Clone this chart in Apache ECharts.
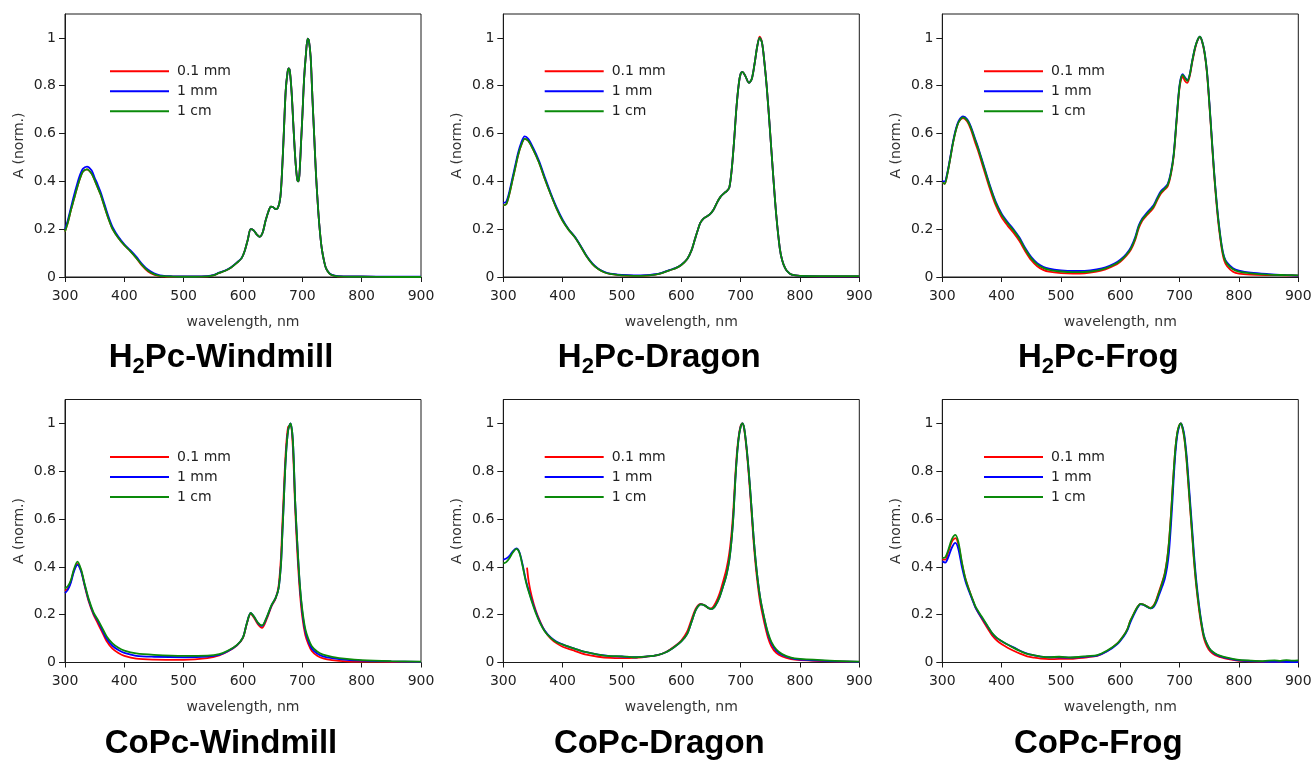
<!DOCTYPE html>
<html><head><meta charset="utf-8">
<script src="https://cdn.jsdelivr.net/npm/echarts@6/dist/echarts.min.js"></script>
<style>html,body{margin:0;padding:0;background:#fff}#c{width:1314px;height:761px}</style>
</head><body><div id="c"></div>
<script>
const xTicks = [300, 400, 500, 600, 700, 800, 900];
const yTicks = [0, 0.2, 0.4, 0.6, 0.8, 1];
const seriesNames = ['0.1 mm', '1 mm', '1 cm'];
const panelTitles = ['{a|H}{s|2}{a|Pc-Windmill}', '{a|H}{s|2}{a|Pc-Dragon}', '{a|H}{s|2}{a|Pc-Frog}',
                     '{a|CoPc-Windmill}', '{a|CoPc-Dragon}', '{a|CoPc-Frog}'];

// ---- H2Pc-Windmill ----
const wl1 = [300,305,310,315,320,325,330,337,345,350,355,360,365,370,375,380,390,400,410,420,430,440,450,460,470,480,500,520,540,550,560,570,580,590,598,603,608,613,618,623,628,633,638,643,647,651,655,659,663,666,669,672,675,677,679,682,685,688,691,693,695,698,700,703,706,709,711,714,717,720,723,727,730,733,737,740,745,750,760,780,800,850,900];
const r1 = [0.19,0.23,0.28,0.325,0.37,0.41,0.44,0.45,0.432,0.405,0.375,0.345,0.307,0.268,0.232,0.202,0.163,0.133,0.108,0.08,0.047,0.023,0.01,0.004,0.002,0.001,0.001,0.001,0.003,0.007,0.017,0.026,0.04,0.06,0.08,0.11,0.155,0.2,0.195,0.178,0.168,0.185,0.235,0.275,0.294,0.292,0.284,0.29,0.335,0.45,0.615,0.78,0.855,0.872,0.86,0.77,0.63,0.5,0.415,0.4,0.425,0.57,0.67,0.83,0.93,0.997,0.99,0.92,0.75,0.59,0.43,0.27,0.18,0.115,0.062,0.036,0.016,0.008,0.003,0.001,0.001,0,0];
const b1 = [0.2,0.24,0.29,0.34,0.385,0.425,0.452,0.462,0.445,0.415,0.387,0.355,0.317,0.277,0.24,0.21,0.168,0.137,0.112,0.085,0.054,0.03,0.015,0.007,0.004,0.003,0.002,0.002,0.004,0.008,0.018,0.027,0.041,0.061,0.081,0.11,0.155,0.2,0.195,0.178,0.168,0.185,0.235,0.275,0.294,0.292,0.284,0.29,0.335,0.45,0.615,0.78,0.855,0.872,0.86,0.77,0.63,0.5,0.415,0.4,0.425,0.57,0.67,0.83,0.93,0.997,0.99,0.92,0.75,0.59,0.43,0.27,0.18,0.115,0.062,0.036,0.017,0.009,0.004,0.002,0.002,0.001,0.001];
const g1 = [0.19,0.23,0.28,0.325,0.37,0.41,0.44,0.45,0.432,0.405,0.375,0.345,0.307,0.268,0.232,0.202,0.163,0.133,0.108,0.08,0.05,0.026,0.012,0.005,0.003,0.002,0.001,0.001,0.003,0.007,0.017,0.026,0.04,0.06,0.08,0.11,0.155,0.2,0.195,0.178,0.168,0.185,0.235,0.275,0.294,0.292,0.284,0.29,0.335,0.45,0.615,0.78,0.855,0.872,0.86,0.77,0.63,0.5,0.415,0.4,0.425,0.57,0.67,0.83,0.93,0.997,0.99,0.92,0.75,0.59,0.43,0.27,0.18,0.115,0.062,0.036,0.016,0.008,0.003,0.001,0.001,0,0];

// ---- H2Pc-Dragon ----
const wl2 = [300,305,310,315,320,325,330,336,342,350,360,370,380,390,400,410,420,430,440,450,460,470,480,500,520,540,560,580,590,600,610,617,622,627,632,637,642,648,654,660,666,672,677,681,685,689,693,697,700,703,708,714,719,724,728,732,736,740,744,749,755,760,766,770,775,780,786,800,850,900];
const r2 = [0.30,0.305,0.345,0.40,0.455,0.51,0.55,0.578,0.57,0.535,0.48,0.41,0.345,0.285,0.235,0.198,0.168,0.13,0.088,0.055,0.033,0.02,0.013,0.007,0.005,0.006,0.012,0.028,0.036,0.05,0.075,0.11,0.15,0.19,0.226,0.243,0.252,0.262,0.28,0.31,0.335,0.35,0.36,0.375,0.45,0.57,0.71,0.81,0.85,0.858,0.84,0.812,0.83,0.9,0.965,1.005,0.98,0.9,0.795,0.63,0.42,0.26,0.12,0.07,0.037,0.02,0.01,0.005,0.003,0.003];
const b2 = [0.31,0.315,0.355,0.41,0.465,0.52,0.56,0.588,0.578,0.542,0.487,0.417,0.35,0.29,0.24,0.2,0.17,0.132,0.09,0.057,0.035,0.022,0.014,0.009,0.007,0.008,0.013,0.029,0.037,0.051,0.075,0.11,0.15,0.19,0.226,0.243,0.252,0.262,0.28,0.31,0.335,0.35,0.36,0.375,0.45,0.57,0.71,0.81,0.85,0.858,0.84,0.812,0.83,0.9,0.965,1.0,0.98,0.9,0.795,0.63,0.42,0.26,0.12,0.07,0.037,0.02,0.01,0.005,0.003,0.003];
const g2 = [0.30,0.305,0.345,0.40,0.455,0.51,0.55,0.578,0.57,0.535,0.48,0.41,0.345,0.285,0.235,0.198,0.168,0.13,0.088,0.055,0.033,0.02,0.013,0.007,0.005,0.006,0.012,0.028,0.036,0.05,0.075,0.11,0.15,0.19,0.226,0.243,0.252,0.262,0.28,0.31,0.335,0.35,0.36,0.375,0.45,0.57,0.71,0.81,0.85,0.858,0.84,0.812,0.83,0.9,0.965,1.0,0.98,0.9,0.795,0.63,0.42,0.26,0.12,0.07,0.037,0.02,0.01,0.005,0.004,0.004];

// ---- H2Pc-Frog ----
const wl3 = [300,304,308,313,318,323,328,335,342,348,355,360,370,380,390,400,410,420,430,440,450,460,470,480,500,520,540,560,575,590,600,610,618,625,631,637,643,650,656,662,668,675,680,685,690,695,700,705,709,713,717,721,726,730,734,738,742,746,750,754,758,762,766,771,775,780,790,800,820,850,880,900];
const r3 = [0.395,0.39,0.425,0.49,0.56,0.615,0.65,0.665,0.65,0.618,0.565,0.53,0.45,0.37,0.3,0.25,0.215,0.185,0.15,0.107,0.07,0.045,0.03,0.022,0.016,0.014,0.015,0.022,0.032,0.048,0.064,0.088,0.115,0.154,0.203,0.235,0.253,0.272,0.29,0.32,0.347,0.366,0.38,0.425,0.505,0.655,0.795,0.838,0.82,0.812,0.84,0.895,0.955,0.988,1.003,0.983,0.935,0.855,0.725,0.578,0.432,0.31,0.21,0.118,0.07,0.045,0.022,0.014,0.01,0.008,0.007,0.006];
const b3 = [0.40,0.40,0.43,0.495,0.565,0.62,0.655,0.672,0.66,0.63,0.58,0.545,0.465,0.385,0.315,0.265,0.23,0.2,0.165,0.12,0.083,0.058,0.043,0.035,0.028,0.025,0.026,0.032,0.04,0.056,0.072,0.096,0.125,0.166,0.215,0.245,0.263,0.283,0.3,0.33,0.357,0.375,0.39,0.435,0.515,0.665,0.805,0.848,0.835,0.823,0.847,0.902,0.96,0.99,1.005,0.985,0.94,0.862,0.735,0.59,0.445,0.325,0.225,0.13,0.085,0.06,0.037,0.027,0.018,0.012,0.008,0.006];
const g3 = [0.395,0.39,0.425,0.49,0.56,0.615,0.65,0.668,0.655,0.625,0.575,0.54,0.46,0.38,0.31,0.26,0.225,0.195,0.16,0.115,0.078,0.053,0.038,0.03,0.023,0.02,0.021,0.027,0.036,0.052,0.068,0.092,0.12,0.16,0.21,0.24,0.258,0.278,0.295,0.325,0.352,0.37,0.385,0.43,0.51,0.66,0.8,0.845,0.832,0.82,0.845,0.9,0.96,0.99,1.005,0.985,0.94,0.86,0.73,0.585,0.44,0.32,0.22,0.125,0.08,0.055,0.032,0.022,0.015,0.01,0.008,0.007];

// ---- CoPc-Windmill ----
const wl4 = [300,305,310,315,321,327,333,340,348,355,362,370,380,390,400,420,450,500,540,560,575,590,600,606,613,619,625,632,640,648,655,660,664,666,668,672,676,680,684,688,692,696,700,705,710,716,725,735,750,775,800,850,900];
const r4 = [0.30,0.31,0.34,0.385,0.412,0.385,0.322,0.255,0.2,0.165,0.13,0.09,0.058,0.04,0.028,0.016,0.012,0.011,0.018,0.03,0.047,0.072,0.103,0.158,0.203,0.185,0.16,0.145,0.182,0.235,0.268,0.32,0.44,0.56,0.67,0.88,0.985,0.99,0.9,0.64,0.44,0.29,0.19,0.115,0.078,0.048,0.028,0.017,0.01,0.005,0.004,0.003,0.002];
const b4 = [0.29,0.305,0.335,0.38,0.408,0.382,0.325,0.26,0.205,0.175,0.14,0.1,0.07,0.052,0.04,0.028,0.024,0.022,0.025,0.032,0.048,0.073,0.105,0.16,0.207,0.19,0.166,0.153,0.188,0.238,0.27,0.31,0.41,0.52,0.63,0.85,0.97,1.0,0.93,0.67,0.475,0.315,0.21,0.13,0.09,0.058,0.038,0.026,0.018,0.011,0.008,0.005,0.003];
const g4 = [0.31,0.32,0.345,0.39,0.422,0.39,0.33,0.265,0.21,0.18,0.148,0.11,0.08,0.062,0.05,0.038,0.032,0.028,0.029,0.035,0.05,0.074,0.105,0.16,0.207,0.19,0.167,0.155,0.19,0.24,0.27,0.31,0.41,0.52,0.63,0.85,0.97,1.0,0.93,0.67,0.48,0.32,0.22,0.14,0.1,0.068,0.046,0.033,0.024,0.015,0.01,0.006,0.004];

// ---- CoPc-Dragon ----
const wl5 = [300,305,310,316,322,327,332,337,340,343,348,355,362,370,380,390,400,410,420,440,460,480,500,520,540,560,575,590,600,610,618,625,633,640,647,652,658,664,670,676,681,685,688,691,694,697,700,703,706,710,714,718,722,727,733,740,746,752,760,770,785,800,850,900];
const r5 = [null,null,null,null,null,null,null,null,0.397,0.335,0.275,0.215,0.172,0.132,0.1,0.08,0.066,0.057,0.049,0.033,0.024,0.019,0.018,0.019,0.024,0.031,0.045,0.07,0.092,0.13,0.185,0.228,0.245,0.238,0.226,0.228,0.25,0.285,0.335,0.39,0.46,0.55,0.65,0.78,0.885,0.95,0.99,1.0,0.975,0.89,0.775,0.64,0.5,0.365,0.25,0.165,0.105,0.067,0.04,0.025,0.014,0.01,0.005,0.003];
const b5 = [0.43,0.435,0.445,0.465,0.477,0.462,0.415,0.355,0.325,0.3,0.26,0.21,0.168,0.133,0.105,0.087,0.076,0.066,0.058,0.043,0.033,0.027,0.025,0.022,0.025,0.031,0.044,0.068,0.088,0.12,0.175,0.222,0.243,0.238,0.226,0.224,0.24,0.27,0.315,0.365,0.43,0.52,0.62,0.76,0.87,0.945,0.985,1.0,0.98,0.9,0.79,0.66,0.52,0.385,0.27,0.182,0.12,0.08,0.05,0.032,0.018,0.012,0.006,0.003];
const g5 = [0.415,0.42,0.435,0.46,0.475,0.46,0.41,0.35,0.32,0.295,0.255,0.205,0.165,0.13,0.103,0.085,0.075,0.066,0.058,0.043,0.033,0.027,0.026,0.022,0.025,0.031,0.044,0.068,0.088,0.12,0.175,0.222,0.243,0.238,0.226,0.224,0.24,0.27,0.315,0.365,0.43,0.52,0.62,0.76,0.87,0.945,0.985,1.0,0.98,0.9,0.79,0.66,0.52,0.385,0.27,0.185,0.125,0.085,0.055,0.035,0.02,0.015,0.008,0.004];

// ---- CoPc-Frog ----
const wl6 = [300,305,310,316,322,327,333,339,345,351,356,363,370,377,384,392,401,410,421,432,443,455,466,480,497,516,530,544,561,578,595,606,612,617,622,626,630,634,638,643,651,656,660,665,671,675,679,682,685,688,690,693,696,699,702,705,708,711,713,716,719,722,724,728,733,737,741,746,752,760,769,780,797,820,840,860,870,880,890,900];
const r6 = [0.43,0.43,0.46,0.505,0.52,0.495,0.415,0.35,0.305,0.263,0.23,0.198,0.168,0.14,0.113,0.092,0.075,0.062,0.048,0.036,0.026,0.02,0.016,0.014,0.015,0.015,0.018,0.022,0.028,0.048,0.08,0.114,0.14,0.175,0.2,0.22,0.236,0.245,0.243,0.237,0.228,0.238,0.258,0.295,0.34,0.375,0.435,0.505,0.605,0.725,0.8,0.9,0.96,0.99,1.0,0.978,0.935,0.865,0.8,0.7,0.6,0.5,0.43,0.32,0.215,0.15,0.1,0.068,0.045,0.03,0.022,0.015,0.008,0.005,0.004,0.003,0.003,0.003,0.002,0.002];
const b6 = [0.423,0.418,0.44,0.48,0.5,0.475,0.4,0.34,0.298,0.26,0.23,0.2,0.175,0.148,0.122,0.102,0.088,0.075,0.062,0.048,0.037,0.03,0.025,0.022,0.022,0.02,0.022,0.025,0.029,0.047,0.077,0.11,0.135,0.168,0.195,0.215,0.233,0.243,0.242,0.236,0.226,0.232,0.248,0.28,0.32,0.35,0.4,0.46,0.56,0.68,0.77,0.88,0.95,0.985,1.0,0.985,0.95,0.885,0.83,0.73,0.63,0.53,0.46,0.345,0.235,0.165,0.112,0.078,0.052,0.036,0.026,0.018,0.01,0.006,0.004,0.003,0.003,0.002,0.002,0.002];
const g6 = [0.437,0.44,0.47,0.515,0.534,0.505,0.42,0.35,0.304,0.265,0.234,0.205,0.178,0.15,0.123,0.103,0.088,0.075,0.06,0.047,0.036,0.03,0.025,0.022,0.024,0.021,0.023,0.027,0.031,0.05,0.08,0.114,0.14,0.175,0.2,0.22,0.236,0.245,0.243,0.237,0.227,0.236,0.255,0.29,0.335,0.37,0.43,0.5,0.6,0.72,0.8,0.9,0.96,0.99,1.0,0.98,0.94,0.87,0.81,0.71,0.61,0.51,0.44,0.33,0.225,0.16,0.11,0.078,0.053,0.038,0.028,0.02,0.012,0.008,0.006,0.009,0.007,0.01,0.008,0.009];

const panels = [
  {wl: wl1, vals: [r1, b1, g1]}, {wl: wl2, vals: [r2, b2, g2]}, {wl: wl3, vals: [r3, b3, g3]},
  {wl: wl4, vals: [r4, b4, g4]}, {wl: wl5, vals: [r5, b5, g5]}, {wl: wl6, vals: [r6, b6, g6]}
];

// layout (pixels)
const colLeft = [65, 503.3, 942.3];
const rowTop = [14, 399.5];
const plotW = 356, plotH = 263;
const legendOffset = [45, 41.4, 41.7];
const colors = ['#ff0000', '#0000ff', '#0a8a0a'];
const FONT = 'DejaVu Sans';
const AX = '#1a1a1a';

const grids = [], xAxes = [], yAxes = [], legends = [], titles = [], series = [];
panels.forEach((p, i) => {
  const col = i % 3, row = Math.floor(i / 3);
  grids.push({left: colLeft[col], top: rowTop[row], width: plotW, height: plotH,
    show: true, borderColor: AX, borderWidth: 1, backgroundColor: 'transparent', outerBoundsMode: 'none'});
  xAxes.push({type: 'value', gridIndex: i, min: 300, max: 900, interval: 100,
    name: 'wavelength, nm', nameLocation: 'middle', nameGap: 38,
    nameTextStyle: {fontFamily: FONT, fontSize: 14, color: '#333'},
    axisLine: {show: true, onZero: false, lineStyle: {color: AX, width: 1}},
    axisTick: {show: true, inside: false, length: 5, lineStyle: {color: AX, width: 1}, customValues: xTicks},
    axisLabel: {fontFamily: FONT, fontSize: 14, color: '#222', margin: 12, customValues: xTicks},
    splitLine: {show: false}});
  yAxes.push({type: 'value', gridIndex: i, min: 0, max: 1.1, interval: 0.2,
    name: 'A (norm.)', nameLocation: 'middle', nameGap: 39,
    nameTextStyle: {fontFamily: FONT, fontSize: 14, color: '#333'},
    axisLine: {show: true, onZero: false, lineStyle: {color: AX, width: 1}},
    axisTick: {show: true, inside: false, length: 6, lineStyle: {color: AX, width: 1}, customValues: yTicks},
    axisLabel: {fontFamily: FONT, fontSize: 14, color: '#222', margin: 9, customValues: yTicks},
    splitLine: {show: false}});
  legends.push({left: colLeft[col] + legendOffset[col], top: row === 0 ? 64.3 : 450,
    orient: 'vertical', icon: 'rect', itemWidth: 59, itemHeight: 2, itemGap: 6, padding: 0,
    selectedMode: false, data: seriesNames,
    textStyle: {fontFamily: FONT, fontSize: 14, color: '#222', lineHeight: 14, padding: [0, 0, 0, 3]}});
  titles.push({text: panelTitles[i], left: colLeft[col] + 156, top: row === 0 ? 338 : 724, textAlign: 'center', padding: 0,
    textStyle: {rich: {
      a: {fontFamily: 'Liberation Sans', fontWeight: 'bold', fontSize: 33, lineHeight: 40, color: '#000', verticalAlign: 'middle'},
      s: {fontFamily: 'Liberation Sans', fontWeight: 'bold', fontSize: 22, lineHeight: 27, color: '#000', verticalAlign: 'bottom'}
    }}});
  p.vals.forEach((v, k) => {
    series.push({name: seriesNames[k], type: 'line', xAxisIndex: i, yAxisIndex: i,
      data: p.wl.map((x, j) => [x, v[j]]), showSymbol: false, symbol: 'none', smooth: 0.3,
      lineStyle: {width: 1.8, color: colors[k]}, itemStyle: {color: colors[k]},
      emphasis: {disabled: true}, z: 2 + k});
  });
});

const chart = echarts.init(document.getElementById('c'), null, {renderer: 'canvas'});
chart.setOption({animation: false, backgroundColor: '#fff', title: titles, grid: grids,
  xAxis: xAxes, yAxis: yAxes, legend: legends, series: series});
</script></body></html>
